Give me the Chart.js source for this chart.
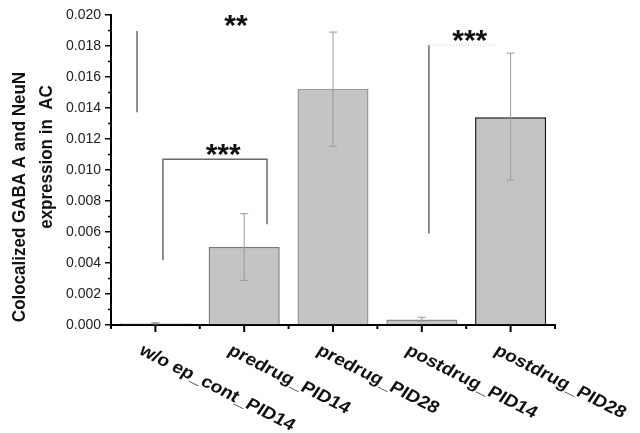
<!DOCTYPE html>
<html>
<head>
<meta charset="utf-8">
<script src="https://cdn.jsdelivr.net/npm/chart.js@4"></script>
<style>
  body { margin: 0; background: #fff; }
  canvas { display: block; }
</style>
</head>
<body>
<canvas id="cvs_grafico" width="640" height="433"></canvas>
<script>
// dados
const categorias = ["w/o ep_cont_PID14", "predrug_PID14", "predrug_PID28", "postdrug_PID14", "postdrug_PID28"];
const medias = [0.0001, 0.00503, 0.01522, 0.00036, 0.01341];
const erroBaixo = [0.00008, 0.00288, 0.01153, 0.00025, 0.00934];
const erroAlto = [0.00015, 0.00718, 0.0189, 0.0005, 0.01754];
const yMin = 0, yMax = 0.02, yPasso = 0.002;

// anotações de significância (índice da categoria, valor)
const linhasSig = [
    [[-0.207, 0.01897], [-0.207, 0.01373]],
    [[0.085, 0.00417], [0.085, 0.01069], [1.257, 0.01069], [1.257, 0.0065]],
    [[3.08, 0.00591], [3.08, 0.01806]],
];
const linhaPontilhada = [[3.08, 0.01806], [3.85, 0.01806]];
const estrelas = [
    { texto: "**", x: 0.908, y: 0.0198 },
    { texto: "***", x: 0.763, y: 0.01147 },
    { texto: "***", x: 3.54, y: 0.01884 },
];

const coresBorda = ["#222", "#777", "#999", "#888", "#111"];
const FONTE = "'Liberation Sans', Arial, sans-serif";

const extras = {
    id: "extras",
    afterDatasetsDraw(chart) {
        const { ctx, scales: { x, y } } = chart;
        const meta = chart.getDatasetMeta(0);
        ctx.save();

        // barras de erro
        ctx.strokeStyle = "#9a9a9a";
        ctx.lineWidth = 1;
        for (let i = 0; i < medias.length; i++) {
            const px = meta.data[i].x;
            const yl = y.getPixelForValue(erroBaixo[i]);
            const yh = y.getPixelForValue(erroAlto[i]);
            ctx.beginPath();
            ctx.moveTo(px, yl); ctx.lineTo(px, yh);
            ctx.moveTo(px - 4, yl); ctx.lineTo(px + 4, yl);
            ctx.moveTo(px - 4, yh); ctx.lineTo(px + 4, yh);
            ctx.stroke();
        }

        // linhas de significância
        ctx.strokeStyle = "#6a6a6a";
        ctx.lineWidth = 1.5;
        linhasSig.forEach(pts => {
            ctx.beginPath();
            pts.forEach((p, k) => {
                const px = x.getPixelForValue(p[0]), py = y.getPixelForValue(p[1]);
                if (k === 0) ctx.moveTo(px, py); else ctx.lineTo(px, py);
            });
            ctx.stroke();
        });
        ctx.strokeStyle = "#d0d0d0";
        ctx.lineWidth = 1;
        ctx.setLineDash([1, 2]);
        ctx.beginPath();
        ctx.moveTo(x.getPixelForValue(linhaPontilhada[0][0]), y.getPixelForValue(linhaPontilhada[0][1]));
        ctx.lineTo(x.getPixelForValue(linhaPontilhada[1][0]), y.getPixelForValue(linhaPontilhada[1][1]));
        ctx.stroke();
        ctx.setLineDash([]);

        // asteriscos
        ctx.fillStyle = "#111";
        ctx.font = `bold 30px ${FONTE}`;
        ctx.textAlign = "center";
        ctx.textBaseline = "alphabetic";
        estrelas.forEach(e => {
            ctx.fillText(e.texto, x.getPixelForValue(e.x), y.getPixelForValue(e.y) + 17);
        });

        // ticks do eixo x (maiores no centro, menores entre categorias)
        ctx.strokeStyle = "#000";
        ctx.lineWidth = 2;
        const base = y.getPixelForValue(0);
        for (let i = 0; i < categorias.length; i++) {
            const px = x.getPixelForValue(i);
            ctx.beginPath(); ctx.moveTo(px, base); ctx.lineTo(px, base + 7); ctx.stroke();
        }
        for (let i = 0; i <= categorias.length; i++) {
            const px = x.getPixelForValue(i - 0.5);
            ctx.beginPath(); ctx.moveTo(px, base); ctx.lineTo(px, base + 4); ctx.stroke();
        }
        // ticks menores do eixo y
        ctx.lineWidth = 1.5;
        for (let v = yMin + yPasso / 2; v < yMax; v += yPasso) {
            const py = y.getPixelForValue(v);
            ctx.beginPath(); ctx.moveTo(x.left, py); ctx.lineTo(x.left - 3, py); ctx.stroke();
        }

        // rótulos do eixo x inclinados (a figura original é esticada na horizontal)
        ctx.fillStyle = "#111";
        ctx.font = `bold 17px ${FONTE}`;
        ctx.textAlign = "left";
        ctx.textBaseline = "top";
        categorias.forEach((c, i) => {
            ctx.save();
            ctx.translate(x.getPixelForValue(i) - 10, base + 17);
            ctx.scale(1.14, 1);
            ctx.rotate(30 * Math.PI / 180);
            ctx.fillText(c, 0, 0);
            ctx.restore();
        });

        // título do eixo y (duas linhas)
        ctx.font = `bold 17px ${FONTE}`;
        ctx.textAlign = "center";
        ctx.textBaseline = "middle";
        ctx.save();
        ctx.translate(20, 197);
        ctx.scale(1.12, 1);
        ctx.rotate(-Math.PI / 2);
        ctx.fillText("Colocalized GABA A and NeuN", 0, 0);
        ctx.restore();
        ctx.save();
        ctx.translate(47, 157);
        ctx.scale(1.12, 1);
        ctx.rotate(-Math.PI / 2);
        ctx.fillText("expression in  AC", 0, 0);
        ctx.restore();

        ctx.restore();
    },
};

new Chart(document.getElementById("cvs_grafico"), {
    type: "bar",
    data: {
        labels: categorias,
        datasets: [{
            data: medias,
            backgroundColor: "rgb(196, 196, 196)",
            borderColor: coresBorda,
            borderWidth: 1.5,
            categoryPercentage: 0.8,
            barPercentage: 1,
        }],
    },
    options: {
        responsive: false,
        animation: false,
        layout: { padding: { top: 15, right: 85, left: 0, bottom: 0 } },
        plugins: { legend: { display: false }, tooltip: { enabled: false } },
        scales: {
            x: {
                grid: { display: false },
                border: { display: true, color: "#000", width: 2 },
                ticks: { display: false },
                afterFit(scale) { scale.height = 108; },
            },
            y: {
                min: yMin,
                max: yMax,
                grid: { drawOnChartArea: false, drawTicks: true, tickLength: 6, color: "#000", lineWidth: 1.5 },
                border: { display: true, color: "#000", width: 2 },
                ticks: {
                    stepSize: yPasso,
                    padding: 4,
                    color: "#222",
                    font: { size: 14, family: FONTE },
                    callback: v => v.toFixed(3),
                },
                afterFit(scale) { scale.width = 111; },
            },
        },
    },
    plugins: [extras],
});
</script>
</body>
</html>
